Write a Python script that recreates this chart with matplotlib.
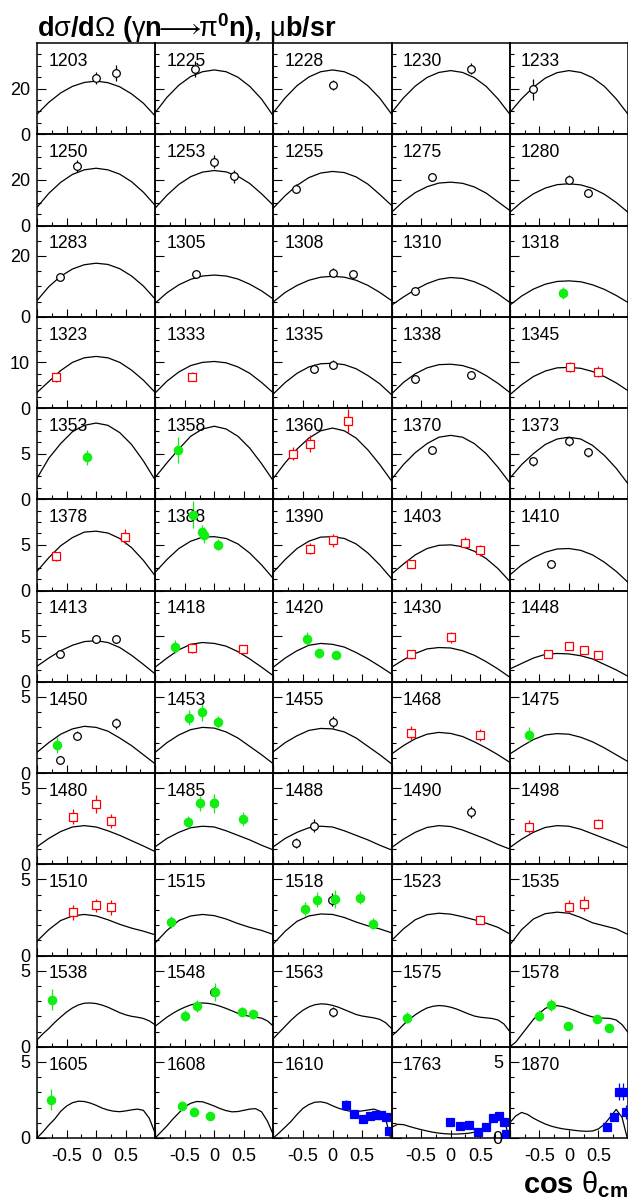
import numpy as np
import matplotlib.pyplot as plt
from matplotlib.ticker import FixedLocator, FixedFormatter

plt.rcParams['font.family'] = ['Liberation Sans', 'DejaVu Sans']
plt.rcParams['mathtext.fontset'] = 'custom'
plt.rcParams['mathtext.rm'] = 'Liberation Sans'
plt.rcParams['mathtext.bf'] = 'Liberation Sans:bold'
plt.rcParams['mathtext.it'] = 'Liberation Sans:italic'
plt.rcParams['mathtext.default'] = 'rm'

# photon energies (MeV), one list per row of panels
energies = [
    [1203, 1225, 1228, 1230, 1233],
    [1250, 1253, 1255, 1275, 1280],
    [1283, 1305, 1308, 1310, 1318],
    [1323, 1333, 1335, 1338, 1345],
    [1353, 1358, 1360, 1370, 1373],
    [1378, 1388, 1390, 1403, 1410],
    [1413, 1418, 1420, 1430, 1448],
    [1450, 1453, 1455, 1468, 1475],
    [1480, 1485, 1488, 1490, 1498],
    [1510, 1515, 1518, 1523, 1535],
    [1538, 1548, 1563, 1575, 1578],
    [1605, 1608, 1610, 1763, 1870],
]
row_ymax = [40, 40, 30, 20, 10, 10, 10, 6, 6, 6, 6, 6]
row_major = [20, 20, 20, 10, 5, 5, 5, 5, 5, 5, 5, 5]
row_minor = [5, 5, 5, 2.5, 1.25, 1.25, 1.25, 1, 1, 1, 1, 1]

cos_coarse = [-1.0, -0.8, -0.6, -0.4, -0.2, 0.0, 0.2, 0.4, 0.6, 0.8, 1.0]
cos_fine = [-1.0, -0.9, -0.8, -0.7, -0.6, -0.5, -0.4, -0.3, -0.2, -0.1, 0.0,
            0.1, 0.2, 0.3, 0.4, 0.5, 0.6, 0.7, 0.8, 0.9, 1.0]

# model curves (11 values on cos_coarse, 21 values on cos_fine)
theory = {
    1203: [8.8, 14.0, 18.1, 21.0, 22.7, 23.3, 22.6, 20.8, 17.7, 13.6, 8.0],
    1225: [9.5, 16.2, 21.5, 25.3, 27.4, 28.2, 27.4, 25.0, 21.0, 15.4, 8.0],
    1228: [9.5, 16.0, 21.3, 25.1, 27.4, 28.2, 27.4, 25.1, 21.2, 15.8, 8.8],
    1230: [9.5, 15.9, 21.1, 24.9, 27.1, 27.9, 27.1, 24.8, 21.0, 15.5, 8.8],
    1233: [9.5, 15.6, 20.6, 24.6, 27.0, 27.9, 27.1, 24.8, 21.0, 15.5, 8.8],
    1250: [8.0, 14.1, 18.9, 22.4, 24.4, 25.1, 24.4, 22.5, 19.2, 14.6, 8.8],
    1253: [7.6, 13.3, 18.0, 21.4, 23.4, 24.1, 23.5, 21.6, 18.4, 13.9, 8.8],
    1255: [7.7, 13.1, 17.6, 21.0, 23.0, 23.7, 23.2, 21.3, 18.1, 13.6, 8.8],
    1275: [5.8, 10.6, 14.4, 17.0, 18.6, 19.0, 18.5, 16.9, 14.2, 10.4, 6.6],
    1280: [5.8, 10.3, 13.9, 16.4, 17.9, 18.3, 17.8, 16.3, 13.7, 10.1, 5.8],
    1283: [5.3, 9.9, 13.3, 15.7, 17.1, 17.6, 17.2, 15.8, 13.4, 10.1, 5.8],
    1305: [4.5, 7.9, 10.5, 12.3, 13.4, 13.7, 13.4, 12.4, 10.7, 8.5, 5.8],
    1308: [4.9, 8.0, 10.3, 12.0, 13.0, 13.3, 13.0, 12.0, 10.3, 8.0, 5.3],
    1310: [3.8, 6.5, 8.9, 10.9, 12.3, 12.9, 12.6, 11.5, 9.8, 7.5, 4.7],
    1318: [3.8, 6.8, 9.1, 10.7, 11.6, 11.8, 11.5, 10.5, 9.0, 7.0, 4.7],
    1323: [3.4, 5.8, 8.2, 10.0, 11.0, 11.3, 11.0, 10.0, 8.3, 6.1, 3.4],
    1333: [3.3, 5.9, 7.9, 9.3, 10.0, 10.2, 9.9, 9.0, 7.6, 5.6, 3.3],
    1335: [3.1, 5.6, 7.6, 9.0, 9.7, 9.8, 9.5, 8.6, 7.1, 5.3, 2.9],
    1338: [3.1, 5.6, 7.5, 8.8, 9.5, 9.6, 9.3, 8.5, 7.1, 5.4, 3.4],
    1345: [2.9, 5.1, 6.9, 8.1, 8.8, 8.9, 8.7, 8.0, 6.9, 5.5, 3.8],
    1353: [2.3, 4.5, 6.1, 7.4, 8.1, 8.35, 8.1, 7.3, 6.0, 4.2, 2.1],
    1358: [2.4, 4.0, 5.5, 6.9, 7.7, 8.0, 7.7, 6.9, 5.6, 3.9, 2.0],
    1360: [2.3, 4.0, 5.5, 6.7, 7.5, 7.8, 7.5, 6.7, 5.4, 3.8, 2.0],
    1370: [2.2, 3.8, 5.1, 6.1, 6.8, 7.0, 6.8, 6.1, 5.0, 3.5, 1.8],
    1373: [2.3, 3.8, 5.0, 6.0, 6.6, 6.8, 6.6, 5.9, 4.8, 3.4, 1.7],
    1378: [2.1, 3.6, 4.9, 5.8, 6.4, 6.5, 6.3, 5.7, 4.7, 3.3, 1.6],
    1388: [2.0, 3.4, 4.6, 5.4, 5.85, 5.9, 5.7, 5.1, 4.1, 2.8, 1.3],
    1390: [2.0, 3.4, 4.6, 5.4, 5.85, 5.9, 5.7, 5.1, 4.1, 2.8, 1.3],
    1403: [1.8, 2.9, 3.9, 4.6, 4.95, 5.0, 4.8, 4.3, 3.5, 2.4, 1.0],
    1410: [1.7, 2.8, 3.6, 4.2, 4.55, 4.6, 4.4, 3.9, 3.1, 2.1, 0.9],
    1413: [1.7, 2.6, 3.4, 4.0, 4.4, 4.5, 4.3, 3.75, 2.9, 1.9, 0.85],
    1418: [1.6, 2.6, 3.5, 4.1, 4.3, 4.2, 3.9, 3.3, 2.5, 1.6, 0.65],
    1420: [1.6, 2.6, 3.4, 4.0, 4.2, 4.1, 3.8, 3.2, 2.5, 1.7, 0.85],
    1430: [1.6, 2.4, 3.1, 3.6, 3.75, 3.7, 3.4, 2.9, 2.2, 1.4, 0.5],
    1448: [1.4, 2.0, 2.6, 3.0, 3.1, 3.05, 2.85, 2.5, 1.9, 1.3, 0.6],
    1450: [1.36, 2.0, 2.55, 2.9, 3.07, 3.0, 2.75, 2.3, 1.8, 1.2, 0.6],
    1453: [1.36, 2.0, 2.5, 2.85, 3.0, 2.95, 2.7, 2.3, 1.75, 1.2, 0.6],
    1455: [1.4, 2.0, 2.45, 2.8, 2.93, 2.9, 2.7, 2.3, 1.75, 1.2, 0.6],
    1468: [1.25, 1.8, 2.25, 2.55, 2.67, 2.6, 2.4, 2.05, 1.65, 1.2, 0.7],
    1475: [1.25, 1.75, 2.2, 2.5, 2.59, 2.55, 2.35, 2.05, 1.65, 1.2, 0.75],
    1480: [1.15, 1.7, 2.15, 2.45, 2.54, 2.45, 2.2, 1.9, 1.55, 1.2, 0.83],
    1485: [1.15, 1.7, 2.1, 2.4, 2.5, 2.45, 2.2, 1.9, 1.6, 1.25, 0.94],
    1488: [1.15, 1.7, 2.1, 2.4, 2.5, 2.45, 2.2, 1.9, 1.6, 1.25, 0.94],
    1490: [1.1, 1.65, 2.1, 2.42, 2.54, 2.48, 2.25, 1.95, 1.65, 1.3, 1.0],
    1498: [1.1, 1.65, 2.1, 2.42, 2.54, 2.5, 2.3, 2.0, 1.7, 1.4, 1.07],
    1510: [0.94, 1.7, 2.3, 2.6, 2.7, 2.6, 2.35, 2.05, 1.8, 1.6, 1.36],
    1515: [0.83, 1.65, 2.3, 2.6, 2.7, 2.62, 2.4, 2.1, 1.85, 1.65, 1.38],
    1518: [0.77, 1.6, 2.25, 2.6, 2.73, 2.7, 2.5, 2.2, 1.95, 1.75, 1.49],
    1523: [0.99, 1.75, 2.35, 2.68, 2.78, 2.72, 2.55, 2.35, 2.12, 1.85, 1.42],
    1535: [0.7, 1.7, 2.4, 2.75, 2.85, 2.78, 2.5, 2.15, 1.95, 1.75, 1.38],
    1538: [0.45, 0.85, 1.2, 1.6, 1.95, 2.28, 2.55, 2.75, 2.86, 2.88, 2.84,
           2.74, 2.6, 2.42, 2.24, 2.1, 2.0, 1.94, 1.86, 1.7, 1.44],
    1548: [1.35, 1.65, 1.95, 2.2, 2.42, 2.6, 2.75, 2.84, 2.88, 2.85, 2.78,
           2.66, 2.52, 2.36, 2.2, 2.08, 2.0, 1.95, 1.88, 1.7, 1.35],
    1563: [0.55, 0.95, 1.35, 1.75, 2.1, 2.4, 2.62, 2.76, 2.82, 2.8, 2.72,
           2.6, 2.44, 2.28, 2.12, 2.02, 1.96, 1.9, 1.8, 1.58, 1.2],
    1575: [0.7, 1.05, 1.45, 1.8, 2.1, 2.35, 2.55, 2.66, 2.71, 2.68, 2.6,
           2.48, 2.32, 2.16, 2.02, 1.94, 1.9, 1.86, 1.76, 1.5, 1.0],
    1578: [0.0, 0.3, 0.8, 1.3, 1.8, 2.2, 2.52, 2.68, 2.7, 2.64, 2.52,
           2.38, 2.22, 2.08, 1.96, 1.9, 1.88, 1.86, 1.76, 1.45, 0.95],
    1605: [0.0, 0.4, 0.85, 1.25, 1.75, 2.1, 2.32, 2.42, 2.4, 2.3, 2.15,
           1.97, 1.84, 1.76, 1.73, 1.78, 1.85, 1.9, 1.82, 1.3, 0.3],
    1608: [0.0, 0.4, 0.8, 1.25, 1.65, 2.05, 2.28, 2.4, 2.38, 2.25, 2.1,
           1.93, 1.8, 1.72, 1.74, 1.82, 1.9, 1.93, 1.72, 1.1, 0.2],
    1610: [0.0, 0.35, 0.72, 1.1, 1.55, 1.95, 2.2, 2.35, 2.38, 2.3, 2.12,
           1.96, 1.84, 1.76, 1.74, 1.78, 1.84, 1.9, 1.76, 1.25, -0.3],
    1763: [0.7, 0.9, 0.88, 0.76, 0.65, 0.55, 0.46, 0.38, 0.32, 0.28, 0.26,
           0.26, 0.28, 0.31, 0.38, 0.5, 0.75, 1.05, 1.33, 1.22, -0.1],
    1870: [1.0, 1.45, 1.68, 1.55, 1.3, 1.1, 0.92, 0.78, 0.68, 0.6, 0.55,
           0.5, 0.46, 0.44, 0.46, 0.6, 0.9, 1.38, 1.88, 1.35, -0.2],
}

# measured points: energy -> (cos theta, dsigma/dOmega, error)
open_circles = {
    1203: ([0.0, 0.33], [24.7, 26.7], [2.5, 3.5]),
    1225: ([-0.32], [28.5], [3.5]),
    1228: ([0.0], [21.6], [2.2]),
    1230: ([0.34], [28.8], [2.5]),
    1233: ([-0.6], [19.7], [4.5]),
    1250: ([-0.33], [26.0], [2.5]),
    1253: ([0.0, 0.33], [28.0, 21.6], [3.0, 2.8]),
    1255: ([-0.61], [16.1], [2.0]),
    1275: ([-0.32], [21.2], [1.0]),
    1280: ([0.0, 0.33], [20.0, 14.2], [2.0, 1.0]),
    1283: ([-0.61], [13.2], [1.0]),
    1305: ([-0.31], [14.0], [1.2]),
    1308: ([0.0, 0.34], [14.5, 14.0], [1.5, 1.2]),
    1310: ([-0.61], [8.5], [0.8]),
    1335: ([-0.32, 0.0], [8.6, 9.5], [1.0, 1.0]),
    1338: ([-0.6, 0.34], [6.3, 7.2], [0.7, 0.7]),
    1370: ([-0.32], [5.35], [0.3]),
    1373: ([-0.6, 0.0, 0.33], [4.15, 6.35, 5.15], [0.5, 0.5, 0.5]),
    1410: ([-0.31], [2.9], [0.2]),
    1413: ([-0.61, 0.0, 0.33], [3.0, 4.65, 4.65], [0.3, 0.4, 0.4]),
    1450: ([-0.61, -0.33, 0.33], [0.88, 2.45, 3.27], [0.25, 0.3, 0.35]),
    1455: ([0.0], [3.38], [0.4]),
    1485: ([0.0], [4.05], [0.35]),
    1488: ([-0.61, -0.32], [1.4, 2.54], [0.3, 0.45]),
    1490: ([0.34], [3.46], [0.4]),
    1518: ([-0.01], [3.68], [0.4]),
    1548: ([-0.01], [3.63], [0.3]),
    1563: ([0.0], [2.29], [0.35]),
}
red_squares = {
    1323: ([-0.68], [6.7], [1.0]),
    1333: ([-0.38], [6.9], [1.0]),
    1345: ([0.02, 0.49], [8.9, 8.0], [1.1, 1.1]),
    1360: ([-0.66, -0.38, 0.26], [5.0, 6.1, 8.6], [0.7, 0.9, 1.3]),
    1378: ([-0.68, 0.49], [3.75, 5.9], [0.5, 0.8]),
    1390: ([-0.38, 0.0], [4.6, 5.5], [0.6, 0.7]),
    1403: ([-0.67, 0.25, 0.49], [2.9, 5.25, 4.4], [0.4, 0.6, 0.6]),
    1418: ([-0.38, 0.48], [3.7, 3.6], [0.5, 0.4]),
    1430: ([-0.67, 0.01], [3.0, 4.9], [0.5, 0.6]),
    1448: ([-0.36, 0.01, 0.26, 0.49], [3.0, 3.9, 3.5, 2.9], [0.4, 0.45, 0.4, 0.4]),
    1468: ([-0.67, 0.49], [2.63, 2.5], [0.45, 0.4]),
    1480: ([-0.39, 0.0, 0.26], [3.13, 3.97, 2.85], [0.5, 0.6, 0.45]),
    1498: ([-0.67, 0.5], [2.48, 2.65], [0.4, 0.35]),
    1510: ([-0.39, 0.0, 0.26], [2.83, 3.29, 3.16], [0.5, 0.45, 0.5]),
    1523: ([0.49], [2.35], [0.3]),
    1535: ([0.01, 0.26], [3.22, 3.4], [0.45, 0.5]),
}
green_dots = {
    1318: ([-0.1], [7.9], [2.0]),
    1353: ([-0.15], [4.6], [0.8]),
    1358: ([-0.61], [5.4], [1.4]),
    1388: ([-0.36, -0.2, -0.18, 0.07], [8.3, 6.4, 6.1, 5.0], [1.5, 0.8, 0.9, 0.6]),
    1418: ([-0.66], [3.85], [0.7]),
    1420: ([-0.43, -0.22, 0.06], [4.7, 3.1, 2.9], [0.7, 0.5, 0.3]),
    1450: ([-0.67], [1.84], [0.5]),
    1453: ([-0.43, -0.2, 0.06], [3.64, 4.0, 3.38], [0.5, 0.6, 0.4]),
    1475: ([-0.68], [2.52], [0.5]),
    1485: ([-0.45, -0.24, 0.0, 0.49], [2.78, 4.0, 4.0, 2.98], [0.4, 0.5, 0.6, 0.45]),
    1515: ([-0.73], [2.2], [0.4]),
    1518: ([-0.47, -0.26, 0.04, 0.47, 0.68], [3.05, 3.68, 3.7, 3.81, 2.1],
           [0.45, 0.5, 0.6, 0.45, 0.35]),
    1538: ([-0.74], [3.1], [0.7]),
    1548: ([-0.49, -0.29, 0.02, 0.47, 0.66], [2.05, 2.7, 3.58, 2.31, 2.14],
           [0.35, 0.4, 0.6, 0.3, 0.3]),
    1575: ([-0.74], [1.92], [0.35]),
    1578: ([-0.5, -0.31, -0.02, 0.47, 0.68], [2.05, 2.77, 1.39, 1.83, 1.24],
           [0.35, 0.4, 0.2, 0.25, 0.2]),
    1605: ([-0.76], [2.52], [0.7]),
    1608: ([-0.55, -0.35, -0.08], [2.12, 1.73, 1.42], [0.3, 0.3, 0.25]),
}
blue_squares = {
    1610: ([0.22, 0.37, 0.52, 0.63, 0.73, 0.82, 0.9, 0.96],
           [2.17, 1.6, 1.25, 1.42, 1.5, 1.48, 1.36, 0.48],
           [0.3, 0.12, 0.12, 0.12, 0.12, 0.12, 0.12, 0.15]),
    1763: ([-0.01, 0.15, 0.31, 0.47, 0.6, 0.72, 0.81, 0.9, 0.94],
           [1.03, 0.77, 0.85, 0.37, 0.7, 1.31, 1.42, 1.03, 0.26],
           [0.2, 0.15, 0.15, 0.15, 0.15, 0.15, 0.15, 0.15, 0.15]),
    1870: ([0.64, 0.76, 0.85, 0.91, 0.97],
           [0.74, 1.4, 3.04, 3.04, 1.73],
           [0.15, 0.2, 0.55, 0.55, 0.45]),
}

styles = [
    (open_circles, dict(fmt='o', mfc='white', mec='black', ecolor='black', ms=5.5)),
    (red_squares, dict(fmt='s', mfc='white', mec='#ff0000', ecolor='#ff0000', ms=5.5)),
    (green_dots, dict(fmt='o', mfc='#11ee11', mec='#11ee11', ecolor='#11ee11', ms=6)),
    (blue_squares, dict(fmt='s', mfc='#0000ff', mec='#0000ff', ecolor='#0000ff', ms=5.5)),
]

W, H = 628, 1200
x0, y0 = 37, 43
pw, ph = 118.2, 91.25

fig = plt.figure(figsize=(W / 100, H / 100), dpi=100)

for r, row in enumerate(energies):
    for c, e in enumerate(row):
        ax = fig.add_axes([(x0 + c * pw) / W, 1 - (y0 + (r + 1) * ph) / H, pw / W, ph / H])
        ax.set_facecolor('none')
        yv = theory[e]
        xv = cos_coarse if len(yv) == len(cos_coarse) else cos_fine
        ax.plot(xv, yv, color='black', lw=0.9, zorder=2)
        for data, st in styles:
            if e in data:
                px, py, pe = data[e]
                ax.errorbar(px, py, yerr=pe, capsize=0, elinewidth=0.9, mew=0.9,
                            zorder=3, **st)
        ax.set_xlim(-1, 1)
        ax.set_ylim(0, row_ymax[r])
        for s in ax.spines.values():
            s.set_linewidth(1.1)

        ax.xaxis.set_major_locator(FixedLocator([-1, -0.5, 0, 0.5, 1]))
        ax.xaxis.set_minor_locator(FixedLocator([-0.75, -0.25, 0.25, 0.75]))
        ax.yaxis.set_major_locator(FixedLocator([0, row_major[r]]))
        ax.yaxis.set_minor_locator(FixedLocator(
            list(np.arange(row_minor[r], row_ymax[r], row_minor[r]))))
        ax.tick_params(which='both', direction='in', width=0.8, top=False, right=False)
        ax.tick_params(axis='y', which='major', length=6.5, pad=5, labelsize=13)
        ax.tick_params(axis='x', which='major', length=5.5, pad=7, labelsize=13)
        ax.tick_params(which='minor', length=3)

        ax.yaxis.set_major_formatter(FixedFormatter(['0', str(row_major[r])]))
        show_y = (c == 0) or (e == 1870)
        ax.tick_params(axis='y', labelleft=show_y)
        if r == len(energies) - 1:
            ax.xaxis.set_major_formatter(FixedFormatter(['', '-0.5', '0', '0.5', '']))
        else:
            ax.tick_params(axis='x', labelbottom=False)

        ax.text(0.095, 0.748, str(e), transform=ax.transAxes, fontsize=12.7,
                ha='left', va='baseline')

fig.text(x0 / W, 1 - 28 / H,
         r'$\mathbf{d}\sigma\mathbf{/d}\Omega\ \mathbf{(}\gamma\mathbf{n}\!\!\longrightarrow\!\!\pi^{\mathbf{0}}\mathbf{n),}\,\mu\mathbf{b/sr}$',
         fontsize=19.5, ha='left', va='center')
fig.text(1.0, 1 - 1193 / H, r'$\mathbf{cos}\ \theta_{\mathbf{cm}}$',
         fontsize=21, ha='right', va='baseline')

fig.savefig('out.png', dpi=100)
